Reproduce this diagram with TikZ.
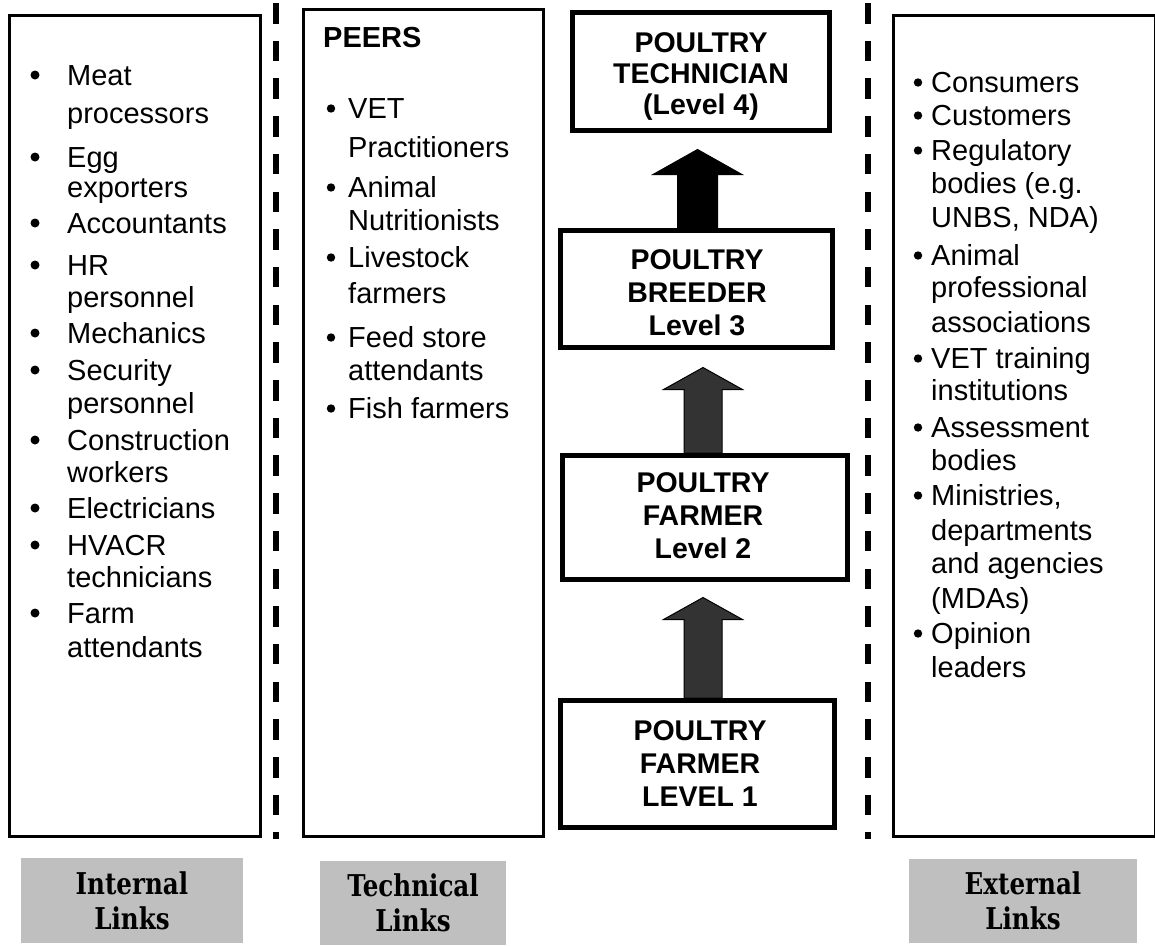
\documentclass[tikz,border=0pt]{standalone}
\usepackage{fontspec}
\setmainfont{Liberation Sans}
\newfontfamily\linkfont{DejaVu Serif}[FakeStretch=0.82]
\usetikzlibrary{calc}
\pgfdeclarelayer{bg}
\pgfsetlayers{bg,main}
\definecolor{linkgray}{HTML}{BFBFBF}
\definecolor{arrowgray}{HTML}{333333}
% #1 fill, #2 from node, #3 to node, #4 x offset, #5 shaft half width, #6 head half width, #7 gap, #8 head length
\newcommand\levelarrow[8]{%
  \draw[uparrow, fill=#1] let \p1=(#2.north), \p2=(#3.south) in
    (\x1+#4pt-#5pt,\y1) -- (\x1+#4pt-#5pt,\y2-#7pt-#8pt) -- (\x1+#4pt-#6pt,\y2-#7pt-#8pt)
    -- (\x1+#4pt,\y2-#7pt) -- (\x1+#4pt+#6pt,\y2-#7pt-#8pt) -- (\x1+#4pt+#5pt,\y2-#7pt-#8pt)
    -- (\x1+#4pt+#5pt,\y1) -- cycle;}
\begin{document}
\begin{tikzpicture}[x=1pt,y=-1pt,
  frame/.style={draw=black, line width=3pt, inner sep=0pt},
  levelbox/.style={draw=black, line width=5pt, inner sep=0pt},
  item/.style={anchor=base west, inner sep=0pt, font=\fontsize{29}{33}\selectfont},
  headtext/.style={anchor=base west, inner sep=0pt, font=\fontsize{29}{33}\selectfont\bfseries},
  leveltext/.style={align=center, inner sep=0pt, font=\fontsize{28.5}{33}\selectfont\bfseries},
  linkbox/.style={fill=linkgray, inner sep=0pt, align=center, font=\linkfont\bfseries\fontsize{30}{35}\selectfont},
  divider/.style={line width=5.5pt, dash pattern=on 20.5pt off 17.2pt},
  bulletdot/.style={fill=black},
  uparrow/.style={draw=black, line width=1pt, line join=miter}
]
\useasboundingbox (0,0) rectangle (1155,945);

% column frames
\node[frame, minimum width=251pt, minimum height=821pt] (internal) at (135,426) {};
\node[frame, minimum width=240pt, minimum height=827pt] (technical) at (423.5,423) {};
\node[frame, minimum width=261.5pt, minimum height=821pt] (external) at (1024.25,426) {};

% dividers
\coordinate (d1a) at (276,3); \coordinate (d1b) at (276,839);
\coordinate (d2a) at (868,3); \coordinate (d2b) at (868,839);
\draw[divider] (d1a) -- (d1b);
\draw[divider] (d2a) -- (d2b);

% level boxes
\node[levelbox, minimum width=257pt, minimum height=118pt] (tech) at (701,71.5) {};
\node[levelbox, minimum width=272pt, minimum height=117pt] (breeder) at (696.5,289) {};
\node[levelbox, minimum width=285pt, minimum height=124pt] (farmer2) at (705,517.5) {};
\node[levelbox, minimum width=274pt, minimum height=127pt] (farmer1) at (697.5,764) {};

\node[leveltext, font=\fontsize{28.5}{31}\selectfont\bfseries] (tech-t) at (701,77) {POULTRY\\TECHNICIAN\\(Level 4)};
\node[leveltext] (breeder-t) at (697,292.3) {POULTRY\\BREEDER\\Level 3};
\node[leveltext] (farmer2-t) at (703,516) {POULTRY\\FARMER\\Level 2};
\node[leveltext] (farmer1-t) at (700,764) {POULTRY\\FARMER\\LEVEL 1};

% arrows
\begin{pgfonlayer}{bg}
\levelarrow{black}{breeder}{tech}{1}{20}{44.5}{16.5}{25}
\levelarrow{arrowgray}{farmer2}{breeder}{-2}{19}{39.5}{17.5}{22}
\levelarrow{arrowgray}{farmer1}{farmer2}{5.5}{19}{39.5}{15.5}{22}
\end{pgfonlayer}

% internal links list
\foreach \t/\y [count=\i] in {Meat/85, processors/123, Egg/167, exporters/197, Accountants/233,
  HR/275, personnel/307, Mechanics/343, Security/380, personnel/413, Construction/450,
  workers/482, Electricians/518, HVACR/555, technicians/587, Farm/623, attendants/657}
  \node[item] (int\i) at (67,\y) {\t};
\foreach \y in {85,167,233,275,343,380,450,518,555,623}
  \fill[bulletdot] (35,\y-10) circle (4.5);

% technical links list
\node[headtext] (peers) at (323,47) {PEERS};
\foreach \t/\y [count=\i] in {VET/118, Practitioners/157, Animal/197, Nutritionists/230,
  Livestock/267, farmers/303, Feed store/347, attendants/380, Fish farmers/418}
  \node[item] (peer\i) at (348,\y) {\t};
\foreach \y in {118,197,267,347,418}
  \fill[bulletdot] (331,\y-9.5) circle (4.2);

% external links list
\foreach \t/\y [count=\i] in {Consumers/92, Customers/125, Regulatory/160, {bodies (e.g.}/193,
  {UNBS, NDA)}/227, Animal/265, professional/297, associations/332, VET training/368,
  institutions/400, Assessment/437, bodies/470, {Ministries,}/505, departments/540,
  and agencies/573, (MDAs)/608, Opinion/643, leaders/677}
  \node[item] (ext\i) at (931,\y) {\t};
\foreach \y in {92,125,160,265,368,437,505,643}
  \fill[bulletdot] (918,\y-9.5) circle (4.2);

% link labels
\node[linkbox, minimum width=222pt, minimum height=85pt] (lab-int) at (132,900.5) {Internal\\Links};
\node[linkbox, minimum width=186pt, minimum height=84pt] (lab-tech) at (413,903) {Technical\\Links};
\node[linkbox, minimum width=228pt, minimum height=84pt] (lab-ext) at (1023,901) {External\\Links};
\end{tikzpicture}
\end{document}
